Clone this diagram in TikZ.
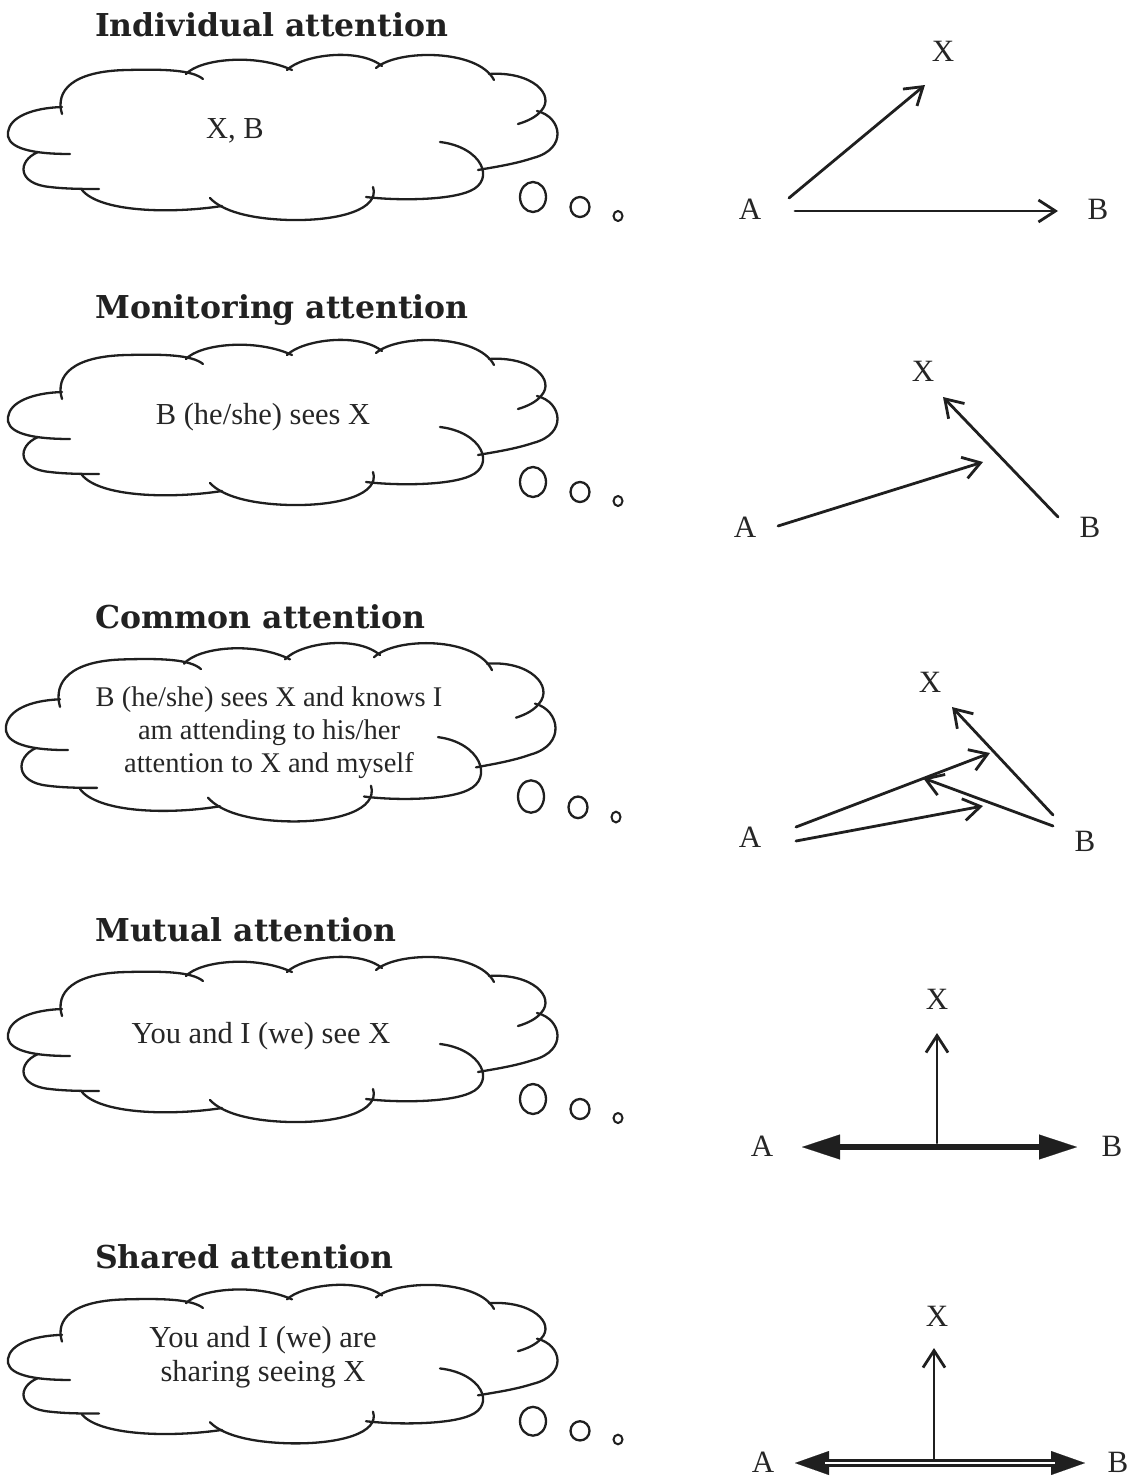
\documentclass[tikz,border=0pt]{standalone}
\usepackage{fontspec}
\setmainfont{Liberation Serif}
\newfontfamily\headfont{DejaVu Serif}
\usetikzlibrary{arrows.meta}

\tikzset{
  lobe/.style={draw=black!88, line width=2.3pt, line cap=round},
  sight/.style={draw=black!88, line width=2.8pt, line cap=round,
    -{Straight Barb[length=17pt,width=22pt]}},
  heading/.style={anchor=base west, inner sep=0pt,
    font=\headfont\bfseries\fontsize{31.5}{36}\selectfont, text=black!87},
  thought/.style={align=center, inner sep=0pt,
    font=\fontsize{30.5}{33}\selectfont, text=black!85},
  tag/.style={inner sep=0pt, font=\fontsize{31}{33}\selectfont, text=black!85},
  bigtip/.tip={Triangle[length=38pt,width=25pt,line width=0.1pt]},
  midtip/.tip={Triangle[length=34pt,width=24pt,line width=0.1pt]},
}

% thought cloud with its three trailing bubbles, local frame: top edge at y=0
\newcommand{\thoughtcloud}{%
  \draw[lobe] (70,101) .. controls (22,101) and (6,92) .. (8,79)
              .. controls (10,64) and (32,55) .. (62,54);
  \draw[lobe] (62,61) .. controls (55,38) and (72,18) .. (127,17)
              .. controls (165,16) and (192,17) .. (203,26);
  \draw[lobe] (186,21) .. controls (200,6) and (255,0) .. (292,17);
  \draw[lobe] (287,17) .. controls (302,2) and (358,-6) .. (382,13);
  \draw[lobe] (376,15) .. controls (398,-4) and (478,-4) .. (494,27);
  \draw[lobe] (489,21) .. controls (532,18) and (556,42) .. (541,58)
              .. controls (536,64) and (528,68) .. (518,71);
  \draw[lobe] (537,58) .. controls (562,64) and (568,96) .. (533,105)
              .. controls (515,111) and (495,114) .. (478,117);
  \draw[lobe] (440,89) .. controls (482,94) and (496,127) .. (470,138)
              .. controls (450,147) and (400,148) .. (366,144);
  \draw[lobe] (373,134) .. controls (380,156) and (340,168) .. (290,167)
              .. controls (250,166) and (222,158) .. (210,145);
  \draw[lobe] (222,153) .. controls (170,161) and (100,159) .. (82,137);
  \draw[lobe] (38,99) .. controls (17,108) and (17,131) .. (50,134)
              .. controls (66,136) and (86,136) .. (99,136);
  \draw[lobe] (533,144) ellipse [x radius=13, y radius=15];
  \draw[lobe] (580,154) ellipse [x radius=9.5, y radius=10];
  \draw[lobe, line width=2pt] (618,163) ellipse [x radius=4.5, y radius=5];
}

\begin{document}
\begin{tikzpicture}[x=1pt, y=-1pt]
\useasboundingbox (0,0) rectangle (1131,1477);

% ---------- Individual attention ----------
\node[heading] (h1) at (95,37) {Individual attention};
\begin{scope}[shift={(0,53)}] \thoughtcloud \end{scope}
\node[thought] (t1) at (235,131) {X, B};
\node[tag] (x1) at (943,51) {X};
\node[tag] (a1) at (750,209) {A};
\node[tag] (b1) at (1098,209) {B};
\coordinate (a1u) at (789,198); \coordinate (x1t) at (925,85);
\coordinate (a1r) at (795,211); \coordinate (b1t) at (1058,211);
\draw[sight] (a1u) -- (x1t);
\draw[sight] (a1r) -- (b1t);

% ---------- Monitoring attention ----------
\node[heading] (h2) at (95,318) {Monitoring attention};
\begin{scope}[shift={(0,338)}] \thoughtcloud \end{scope}
\node[thought] (t2) at (263,417) {B (he/she) sees X};
\node[tag] (x2) at (923,371) {X};
\node[tag] (a2) at (745,527) {A};
\node[tag] (b2) at (1090,527) {B};
\coordinate (a2o) at (778,526); \coordinate (m2) at (983,462);
\coordinate (b2o) at (1058,517); \coordinate (x2t) at (943,397);
\draw[sight] (a2o) -- (m2);
\draw[sight] (b2o) -- (x2t);

% ---------- Common attention ----------
\node[heading] (h3) at (95,628) {Common attention};
\begin{scope}[shift={(-2,641)}, yscale=1.08] \thoughtcloud \end{scope}
\node[thought, font=\fontsize{28.5}{33}\selectfont] (t3) at (269,733)
  {B (he/she) sees X and knows I\\am attending to his/her\\attention to X and myself};
\node[tag] (x3) at (930,682) {X};
\node[tag] (a3) at (750,837) {A};
\node[tag] (b3) at (1085,841) {B};
\coordinate (a3u) at (796,827); \coordinate (m3u) at (990,753);
\coordinate (a3l) at (796,841); \coordinate (m3l) at (983,806);
\coordinate (b3u) at (1053,815); \coordinate (x3t) at (952,707);
\coordinate (b3l) at (1053,826); \coordinate (m3b) at (923,778);
\draw[sight] (a3u) -- (m3u);
\draw[sight] (a3l) -- (m3l);
\draw[sight] (b3u) -- (x3t);
\draw[sight] (b3l) -- (m3b);

% ---------- Mutual attention ----------
\node[heading] (h4) at (95,941) {Mutual attention};
\begin{scope}[shift={(0,955)}] \thoughtcloud \end{scope}
\node[thought] (t4) at (261,1036) {You and I (we) see X};
\node[tag] (x4) at (937,999) {X};
\node[tag] (a4) at (762,1146) {A};
\node[tag] (b4) at (1112,1146) {B};
\coordinate (c4) at (937,1143); \coordinate (x4t) at (937,1033);
\coordinate (a4t) at (802,1147); \coordinate (b4t) at (1077,1147);
\draw[sight] (c4) -- (x4t);
\draw[draw=black!88, line width=6pt, {bigtip}-{bigtip}] (a4t) -- (b4t);

% ---------- Shared attention ----------
\node[heading] (h5) at (95,1268) {Shared attention};
\begin{scope}[shift={(0,1283)}, yscale=0.96] \thoughtcloud \end{scope}
\node[thought, font=\fontsize{30.5}{34}\selectfont] (t5) at (263,1357)
  {You and I (we) are\\sharing seeing X};
\node[tag] (x5) at (937,1316) {X};
\node[tag] (a5) at (763,1462) {A};
\node[tag] (b5) at (1118,1462) {B};
\coordinate (c5) at (934,1460); \coordinate (x5t) at (934,1348);
\coordinate (a5t) at (795,1463); \coordinate (b5t) at (1085,1463);
\draw[sight] (c5) -- (x5t);
\draw[draw=black!88, line width=7.5pt, {midtip}-{midtip}] (a5t) -- (b5t);
\draw[white, line width=2.8pt, shorten <=30pt, shorten >=30pt] (a5t) -- (b5t);
\end{tikzpicture}
\end{document}
